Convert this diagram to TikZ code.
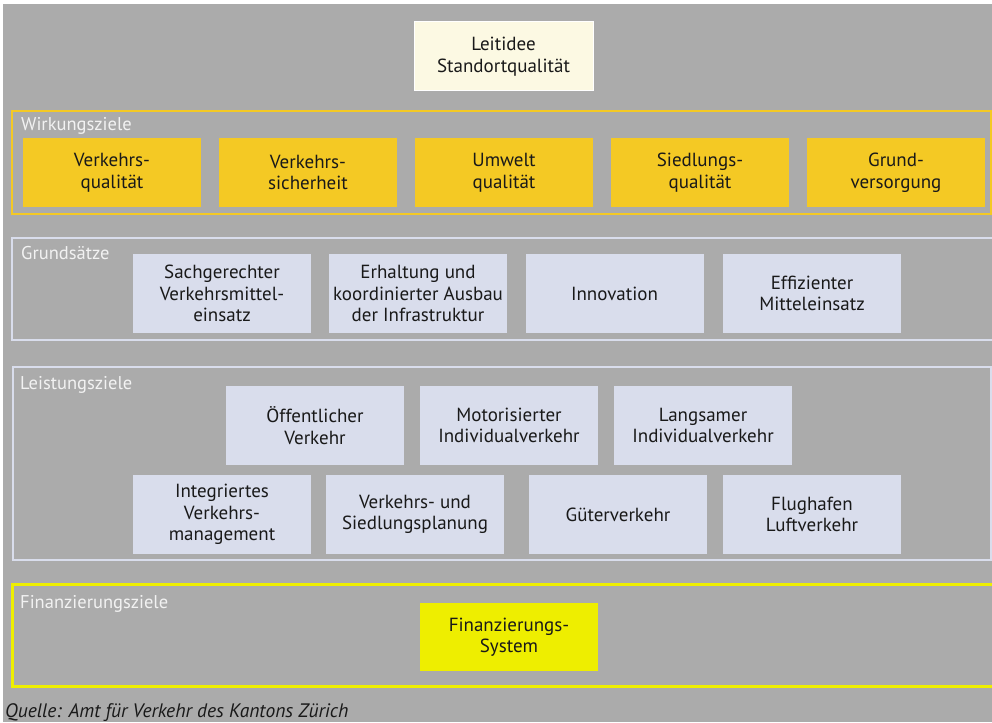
\documentclass[tikz,border=0pt]{standalone}
\usepackage{fontspec}
\setmainfont{PT Sans}
\definecolor{bggray}{HTML}{ABABAB}
\definecolor{leitfill}{HTML}{FCF9E3}
\definecolor{wzgelb}{HTML}{F4C924}
\definecolor{gslila}{HTML}{D9DDEC}
\definecolor{fzgelb}{HTML}{EEEE00}
\definecolor{lbltext}{HTML}{F2F2F2}
\begin{document}
\begin{tikzpicture}[x=1pt,y=-1pt,
  box/.style={rectangle, inner sep=0pt, align=center, minimum width=178pt,
    font=\fontsize{19}{21.5}\selectfont, text={black!90}},
  wzbox/.style={box, fill=wzgelb, minimum height=69pt},
  gsbox/.style={box, fill=gslila, minimum height=79pt},
  frlabel/.style={anchor=base west, inner sep=0pt, text=lbltext,
    font=\fontsize{18.5}{21}\selectfont}]
\useasboundingbox (0,0) rectangle (992,722);
\fill[white] (0,0) rectangle (992,722);
\fill[bggray] (3,4) rectangle (992,722);
% Leitidee
\node[box, fill=leitfill, draw=white, line width=1pt, minimum width=179pt, minimum height=69pt] (leit) at (503.5,56.5){Leitidee\\Standortqualität};
% Wirkungsziele
\draw[wzgelb, line width=2.8pt] (12,111) rectangle (991,214);
\node[frlabel] (lblwz) at (21,131){Wirkungsziele};
\node[wzbox] (wz1) at (112,172.5){Verkehrs-\\qualität};
\node[wzbox] (wz2) at (308,172.5){Verkehrs-\\sicherheit};
\node[wzbox] (wz3) at (504,172.5){Umwelt\\qualität};
\node[wzbox] (wz4) at (700,172.5){Siedlungs-\\qualität};
\node[wzbox] (wz5) at (896,172.5){Grund-\\versorgung};
% Grundsaetze
\draw[gslila, line width=2.6pt] (12,238) rectangle (995,340);
\node[frlabel] (lblgs) at (21,259){Grundsätze};
\node[gsbox] (gs1) at (222,293.5){Sachgerechter\\Verkehrsmittel-\\einsatz};
\node[gsbox] (gs2) at (418,293.5){Erhaltung und\\koordinierter Ausbau\\der Infrastruktur};
\node[gsbox] (gs3) at (614.5,293.5){Innovation};
\node[gsbox] (gs4) at (812,293.5){Effizienter\\Mitteleinsatz};
% Leistungsziele
\draw[gslila, line width=2.6pt] (13,367) rectangle (991,560);
\node[frlabel] (lbllz) at (20,389){Leistungsziele};
\node[gsbox] (lz1) at (315,425.5){Öffentlicher\\Verkehr};
\node[gsbox] (lz2) at (509,425.5){Motorisierter\\Individualverkehr};
\node[gsbox] (lz3) at (703,425.5){Langsamer\\Individualverkehr};
\node[gsbox] (lz4) at (222,514.5){Integriertes\\Verkehrs-\\management};
\node[gsbox] (lz5) at (415,514.5){Verkehrs- und\\Siedlungsplanung};
\node[gsbox] (lz6) at (618,514.5){Güterverkehr};
\node[gsbox] (lz7) at (812,514.5){Flughafen\\Luftverkehr};
% Finanzierungsziele
\draw[fzgelb, line width=3pt] (12,584) rectangle (995,686);
\node[frlabel] (lblfz) at (20,608){Finanzierungsziele};
\node[box, fill=fzgelb, minimum height=68pt] (fz1) at (509,637){Finanzierungs-\\System};
% Quelle
\node[anchor=base west, inner sep=0pt, font=\fontsize{19.5}{21}\selectfont\itshape, text={black!90}] (quelle) at (5,717){Quelle: Amt für Verkehr des Kantons Zürich};
\end{tikzpicture}
\end{document}
